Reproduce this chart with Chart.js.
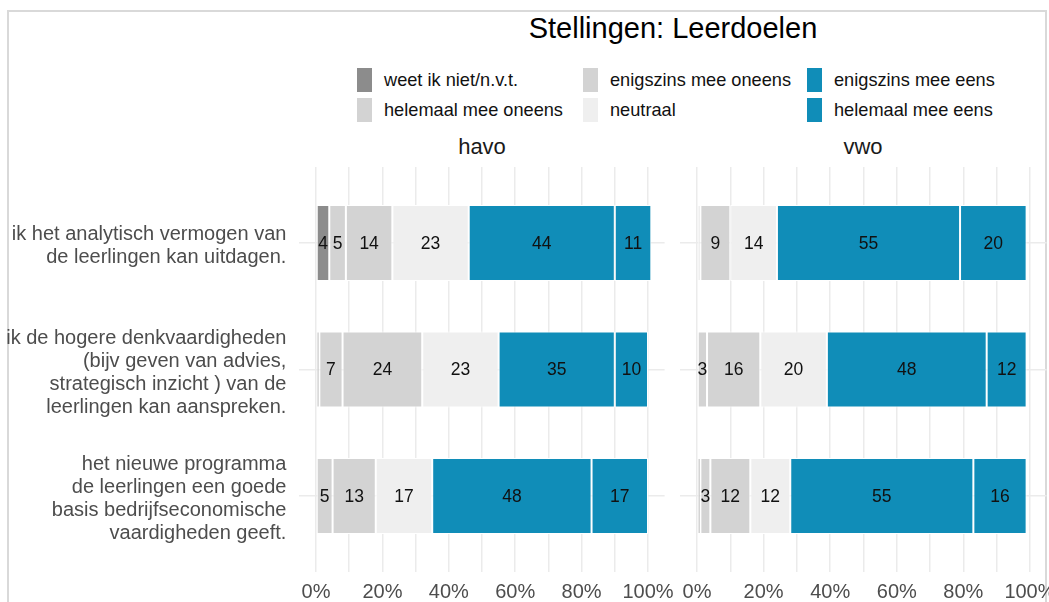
<!DOCTYPE html>
<html lang="nl">
<head>
    <meta charset="UTF-8">
    <title>Stellingen: Leerdoelen</title>
    <style>
        body {
            margin: 0;
            width: 1049px;
            height: 602px;
            overflow: hidden;
            background: #fff;
            font-family: "Liberation Sans", Arial, sans-serif;
            position: relative;
        }
        .frame {
            position: absolute;
            left: 7px;
            top: 10px;
            width: 1036px;
            height: 620px;
            border: 2px solid #d9d9d9;
            z-index: 0;
            pointer-events: none;
        }
        h1 {
            position: absolute;
            left: 316px;
            width: 714px;
            top: 12px;
            margin: 0;
            text-align: center;
            font-weight: normal;
            font-size: 29px;
            color: #000;
        }
        .legend {
            position: absolute;
            left: 357px;
            top: 65px;
            display: grid;
            grid-template-columns: 226px 224px 220px;
            grid-auto-flow: column;
            grid-template-rows: 30px 30px;
        }
        .legend div {
            display: flex;
            align-items: center;
            font-size: 18.2px;
            color: #111;
            white-space: nowrap;
        }
        .legend span {
            display: inline-block;
            width: 15px;
            height: 24px;
            margin-right: 12px;
        }
        .strip {
            position: absolute;
            top: 134px;
            font-size: 22px;
            color: #1a1a1a;
            text-align: center;
            width: 200px;
        }
        canvas { position: absolute; top: 0; z-index: 1; }
    </style>
</head>
<body>
    <div class="frame"></div>
    <h1>Stellingen: Leerdoelen</h1>
    <div class="legend" id="legend"></div>
    <div class="strip" style="left: 382px;">havo</div>
    <div class="strip" style="left: 763px;">vwo</div>
    <canvas id="havoChart" style="left: 0px;"></canvas>
    <canvas id="vwoChart" style="left: 660px;"></canvas>

    <script src="https://cdn.jsdelivr.net/npm/chart.js"></script>
    <script>
        // statements (y axis)
        const statements = [
            ['ik het analytisch vermogen van', 'de leerlingen kan uitdagen.'],
            ['ik de hogere denkvaardigheden', '(bijv geven van advies,', 'strategisch inzicht ) van de', 'leerlingen kan aanspreken.'],
            ['het nieuwe programma', 'de leerlingen een goede', 'basis bedrijfseconomische', 'vaardigheden geeft.']
        ];
        const responses = ['weet ik niet/n.v.t.', 'helemaal mee oneens', 'enigszins mee oneens', 'neutraal', 'enigszins mee eens', 'helemaal mee eens'];
        const responseColors = ['#8c8c8c', '#d3d3d3', '#d3d3d3', '#efefef', '#108db8', '#108db8'];
        const xTicks = [0, 10, 20, 30, 40, 50, 60, 70, 80, 90, 100];

        // havo percentages per statement
        const havoWeet = [4, 1, 0];
        const havoHelemaalOneens = [5, 7, 5];
        const havoEnigszinsOneens = [14, 24, 13];
        const havoNeutraal = [23, 23, 17];
        const havoEnigszinsEens = [44, 35, 48];
        const havoHelemaalEens = [11, 10, 17];

        // vwo percentages per statement
        const vwoWeet = [0, 0, 1];
        const vwoHelemaalOneens = [1, 3, 3];
        const vwoEnigszinsOneens = [9, 16, 12];
        const vwoNeutraal = [14, 20, 12];
        const vwoEnigszinsEens = [55, 48, 55];
        const vwoHelemaalEens = [20, 12, 16];

        const havoSeries = [havoWeet, havoHelemaalOneens, havoEnigszinsOneens, havoNeutraal, havoEnigszinsEens, havoHelemaalEens];
        const vwoSeries = [vwoWeet, vwoHelemaalOneens, vwoEnigszinsOneens, vwoNeutraal, vwoEnigszinsEens, vwoHelemaalEens];

        // legend (html)
        const legend = document.getElementById('legend');
        responses.forEach((r, i) => {
            const item = document.createElement('div');
            item.innerHTML = '<span style="background:' + responseColors[i] + '"></span>' + r;
            legend.appendChild(item);
        });

        Chart.defaults.font.family = '"Liberation Sans", Arial, sans-serif';
        Chart.defaults.animation = false;

        const gridColor = '#ebebeb';

        // draw the numbers inside the segments
        const valueLabels = {
            id: 'valueLabels',
            afterDatasetsDraw(chart) {
                const ctx = chart.ctx;
                ctx.save();
                ctx.font = '17.5px "Liberation Sans", Arial, sans-serif';
                ctx.fillStyle = '#111';
                ctx.textAlign = 'center';
                ctx.textBaseline = 'middle';
                chart.data.datasets.forEach((ds, di) => {
                    const meta = chart.getDatasetMeta(di);
                    meta.data.forEach((bar, i) => {
                        const v = ds.data[i].x;
                        if (v >= 3) {
                            ctx.fillText(v, (bar.x + bar.base) / 2, bar.y + 1);
                        }
                    });
                });
                ctx.restore();
            }
        };

        function makeDatasets(series) {
            return series.map((values, s) => ({
                label: responses[s],
                data: values.map((v, i) => ({ x: v, y: i + 1 })),
                backgroundColor: responseColors[s],
                borderColor: '#ffffff',
                borderWidth: 1,
                borderSkipped: false,
                categoryPercentage: 1,
                barPercentage: 0.6
            }));
        }

        function createChart(id, width, series, showLabels, padding) {
            const canvas = document.getElementById(id);
            canvas.width = width;
            canvas.height = 602;
            canvas.style.width = width + 'px';
            canvas.style.height = '602px';
            return new Chart(canvas.getContext('2d'), {
                type: 'bar',
                data: { datasets: makeDatasets(series) },
                options: {
                    indexAxis: 'y',
                    responsive: false,
                    layout: { padding: padding },
                    plugins: {
                        legend: { display: false },
                        tooltip: { enabled: false }
                    },
                    scales: {
                        x: {
                            type: 'linear',
                            stacked: true,
                            min: -5,
                            max: 105,
                            offset: false,
                            afterBuildTicks: (scale) => {
                                scale.ticks = xTicks.map(v => ({ value: v }));
                            },
                            afterFit: (scale) => { scale.height = 30; },
                            border: { display: false },
                            grid: { color: gridColor, lineWidth: 1.5, drawTicks: false, offset: false },
                            ticks: {
                                padding: 8,
                                autoSkip: false,
                                maxRotation: 0,
                                color: '#4d4d4d',
                                font: { size: 20 },
                                callback: (v) => (v % 20 === 0 ? v + '%' : '')
                            }
                        },
                        y: {
                            type: 'linear',
                            stacked: true,
                            reverse: true,
                            min: 0.4,
                            max: 3.6,
                            offset: false,
                            afterBuildTicks: (scale) => {
                                scale.ticks = statements.map((s, i) => ({ value: i + 1 }));
                            },
                            afterFit: (scale) => {
                                scale.width = showLabels ? 299.4 : 0;
                                scale.paddingTop = 0;
                                scale.paddingBottom = 0;
                            },
                            border: { display: false },
                            grid: { color: gridColor, lineWidth: 1.5, drawTicks: false, offset: false },
                            ticks: {
                                display: showLabels,
                                padding: 13,
                                labelOffset: 3,
                                color: '#4d4d4d',
                                font: { size: 20, lineHeight: 1.15 },
                                callback: (v) => statements[v - 1]
                            }
                        }
                    }
                },
                plugins: [valueLabels]
            });
        }

        createChart('havoChart', 690, havoSeries, true, { top: 167, right: 25.4, bottom: 0, left: 0 });
        createChart('vwoChart', 420, vwoSeries, false, { top: 167, right: 33.4, bottom: 0, left: 20.4 });
    </script>
</body>
</html>
